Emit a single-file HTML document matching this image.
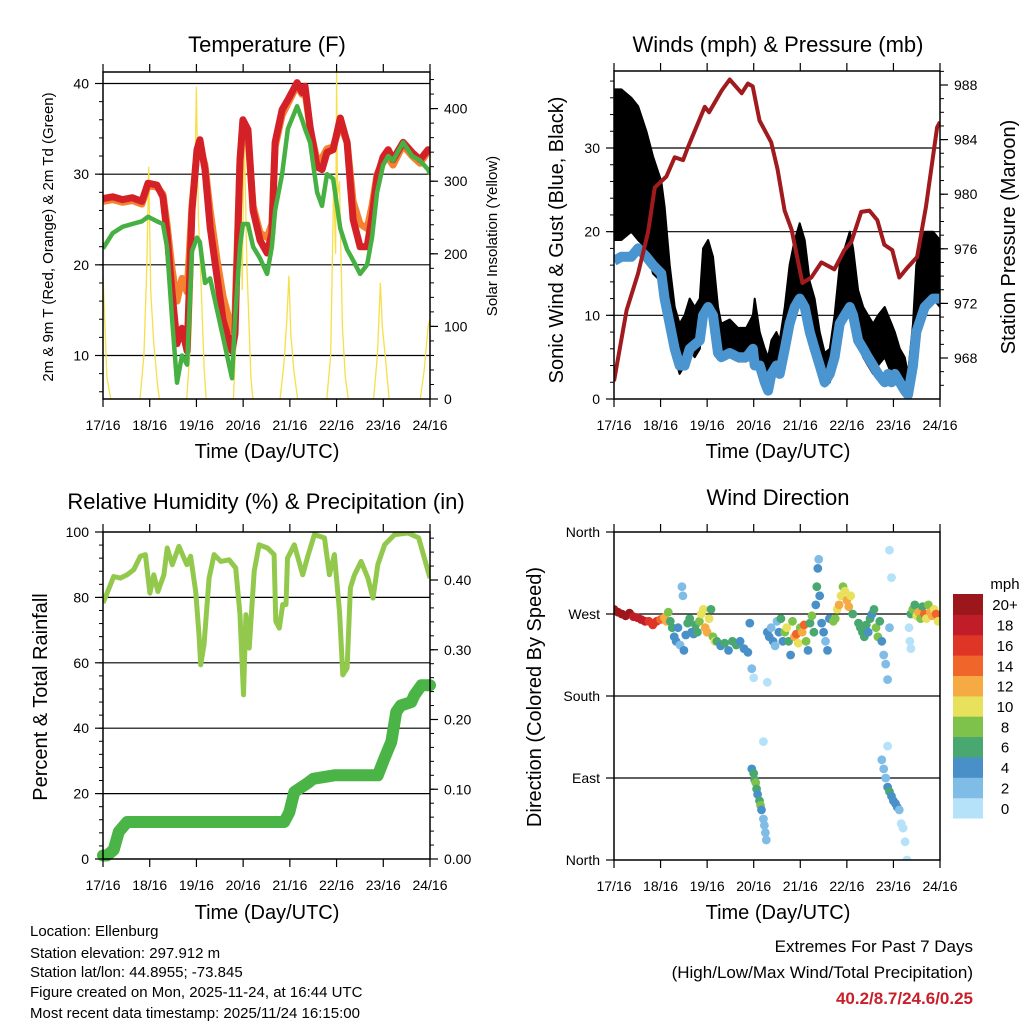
<!DOCTYPE html>
<html><head><meta charset="utf-8"><style>
html,body{margin:0;padding:0;background:#fff}
svg{display:block;font-family:"Liberation Sans",sans-serif}
</style></head><body>
<svg id="root" width="1024" height="1024" viewBox="0 0 1024 1024" xmlns="http://www.w3.org/2000/svg">
<rect x="0" y="0" width="1024" height="1024" fill="#fff"/>
<g id="marks"></g>
<g font-size="22" text-anchor="middle" fill="#000">
<text x="267" y="52">Temperature (F)</text>
<text x="778" y="52">Winds (mph) &amp; Pressure (mb)</text>
<text x="266" y="509">Relative Humidity (%) &amp; Precipitation (in)</text>
<text x="778" y="505">Wind Direction</text>
</g>
<g font-size="20" text-anchor="middle" fill="#000">
<text x="267" y="458">Time (Day/UTC)</text>
<text x="778" y="458">Time (Day/UTC)</text>
<text x="267" y="919">Time (Day/UTC)</text>
<text x="778" y="919">Time (Day/UTC)</text>
<text transform="translate(563,240) rotate(-90)">Sonic Wind &amp; Gust (Blue, Black)</text>
<text transform="translate(1015,237) rotate(-90)">Station Pressure (Maroon)</text>
<text transform="translate(47,697) rotate(-90)">Percent &amp; Total Rainfall</text>
<text transform="translate(541,697) rotate(-90)">Direction (Colored By Speed)</text>
</g>
<g font-size="15" text-anchor="middle" fill="#000">
<text transform="translate(53,237) rotate(-90)">2m &amp; 9m T (Red, Orange) &amp; 2m Td (Green)</text>
<text transform="translate(497,236) rotate(-90)">Solar Insolation (Yellow)</text>
</g>
<g font-size="15" fill="#000">
<text x="30" y="936">Location: Ellenburg</text>
<text x="30" y="958">Station elevation: 297.912 m</text>
<text x="30" y="977">Station lat/lon: 44.8955; -73.845</text>
<text x="30" y="997">Figure created on Mon, 2025-11-24, at 16:44 UTC</text>
<text x="30" y="1018">Most recent data timestamp: 2025/11/24 16:15:00</text>
</g>
<g font-size="17" text-anchor="end">
<text x="973" y="952" fill="#000">Extremes For Past 7 Days</text>
<text x="973" y="978" fill="#000">(High/Low/Max Wind/Total Precipitation)</text>
<text x="973" y="1004" fill="#c8202a" font-weight="bold">40.2/8.7/24.6/0.25</text>
</g>
<text x="1005" y="589" font-size="15" text-anchor="middle">mph</text>
</svg>
<script>
// ---------- data ----------
var dayLabels=["17/16","18/16","19/16","20/16","21/16","22/16","23/16","24/16"];
var tH=[0,5,10,15,20,23.1,27.7,30.8,32.9,35.5,38,40.6,43.2,45.7,48.3,49.8,52.4,55,58.6,61.7,66.3,67.8,70.4,71.9,74.5,77.1,80.7,84.3,86.8,88.4,92,95,99.7,102.3,103.8,106.4,110,112.5,115.1,118.2,121.9,125.4,128.5,132.1,135.7,138.2,140.8,143.9,146.5,149,154.2,158.8,162.9,167,168];
var temp2m=[27.3,27.5,27.2,27.4,27.0,29.0,28.8,27.5,23.5,16.9,11.3,13.0,10.5,26.0,32.7,33.8,30.5,24.2,18.6,13.9,10.5,12.4,31.6,36.0,34.9,26.0,22.7,21.3,23.5,33.5,37.1,38.2,40.1,39.0,39.7,35.2,30.8,30.5,32.4,32.7,36.2,33.5,25.0,22.0,22.0,25.3,29.7,31.9,32.7,31.6,33.5,32.4,31.6,32.7,32.5];
var temp9m=[27.0,27.2,26.9,27.1,26.7,28.7,28.6,27.8,24.5,19.5,16.0,18.5,17.0,26.5,32.5,33.0,31.0,26.0,20.5,16.5,12.8,14.5,31.5,35.0,34.0,26.5,23.5,23.0,24.5,33.0,36.5,37.8,39.8,38.8,39.2,35.0,31.5,31.8,32.8,33.0,35.5,33.5,27.0,24.5,24.0,26.5,30.0,31.5,31.8,31.0,33.2,32.0,31.2,32.5,32.3];
var dewpt=[21.8,23.5,24.2,24.5,24.8,25.3,24.8,24.5,22.0,14.0,7.0,10.0,9.0,21.5,23.0,22.5,18.0,18.5,15.0,12.0,7.5,14.0,22.0,24.5,24.5,22.0,20.7,19.0,22.0,26.0,30.0,35.0,37.5,36.0,35.0,33.5,28.0,26.5,30.0,29.5,24.0,21.7,20.5,19.0,20.0,23.0,28.0,31.0,32.0,31.5,33.5,32.0,31.5,30.5,30.0];
var solarH=[0,2,4,19,21,22.5,23.5,24.5,26,28,29,43,45,46.5,48,49,50.5,52,53,67,69,70.5,71.5,72.5,74,76,77,91,93,94.5,95.5,96.5,98,100,115,117,118.5,119.5,120,120.5,121.5,123,124.5,126,139,141,142.5,143.5,145,147,163,165,167,168];
var solar=[170,30,0,0,60,180,320,150,80,20,0,0,80,200,430,250,150,40,0,0,120,380,150,370,180,30,0,0,50,110,170,90,40,0,0,60,300,200,450,280,300,100,30,0,0,60,160,100,60,0,0,40,100,110];
var wH=[0,3.8,8.9,12.4,16.7,20.1,24.4,26.1,28.7,31.3,33.8,36.4,39,41.6,44.2,45.9,48.5,51,53.6,55.3,59.6,63.9,68.2,71.6,72.5,75.1,77.7,79.4,81.1,83.7,85.4,88,90.5,93.1,95.7,98.3,100.9,103.4,106,108.6,111.2,113.7,116.3,118.9,121.5,123.2,125.8,128.4,130.9,133.5,136.1,139.5,141.2,143,144.7,147.3,149.8,151.5,154.1,155.8,160.1,164.4,168];
var gust=[28,28,28,27,25,22,20,18,12,8,6,7,9,8,9,14,15,13,8,7,7.5,6.5,6.5,8,9,6,4,3,5,6,5,8,12,15,17,15,11,9,6,3.5,4,7,12,14,16,14,10,8,7,6,7,8,7,6,5,4,3,1,6,12,16,16,15];
var gustSpread=[9,9,8,8,7,7,6,5,4,3,3,3,3,3,3,4,4,4,3,2,2,2,2,2,3,2,2,2,2,2,2,3,4,4,4,4,3,3,2,2,2,3,4,4,4,4,3,3,3,3,3,3,3,3,3,2,2,2,3,4,4,4,4];
var wind=[16.5,17,17,18,17,16,15,12,9,6,4,4,6,6.5,7,10,11,10,5.5,5,5.5,5,5,6,4,4,2,1,3,4,3,6,9,11,12,11,8,6,4,2,3,5,9,10,11,10,7,6,5,4,3,2,3,2,3,2,1,0.5,4,8,11,12,12];
var pH=[0,6.5,12.4,17.5,21,27,31.3,35.6,38,46.8,49,55.5,59.6,65.8,69,71.5,75,81,84.3,87.9,91.5,97.1,101.7,106.9,113.6,118.7,122.3,127.4,131.6,135.7,139.3,143.4,147,151.1,156.2,160.8,166.5,168];
var pressure=[966.3,971.5,974.2,977.2,980.5,981.3,982.7,982.5,983.4,986.4,986.0,987.6,988.4,987.4,988.1,987.9,985.4,983.8,981.8,978.8,977.4,973.5,973.9,975.0,974.5,975.9,976.5,978.7,978.8,978.1,976.3,975.9,973.9,974.6,975.4,979.1,984.9,985.3];
var rhH=[0,2.1,5.5,8.9,12.4,15.8,19.2,21.8,24.1,26.1,28.2,31.3,33,35.6,39,43.1,45,47.6,49.3,50.2,51.9,54.5,57.1,60.5,64.8,68.2,70.4,72.2,73.4,75.1,77.7,80.2,84.5,87.9,88.8,90.6,92.3,94,94.8,98.3,102.6,105.2,108.6,113.8,116.3,118.9,121.5,123.2,125.4,127.1,129.2,132.6,136.1,138.7,141.2,144.7,149.8,156.7,162.2,168];
var rh=[78.3,81.3,86.4,85.9,86.9,88.5,92.6,93.1,81.3,86.9,81.8,86.9,95.1,90,95.6,90,92.6,81.8,68.6,59.4,65.5,85.9,93.1,91,91.5,89,74.7,50.2,74.7,64.5,88,96.1,95.1,93.1,72.7,70.6,77.8,77.8,92,96.1,86.9,92.6,99.2,98.2,86.9,93.1,75.7,56.3,58.4,82.9,86.9,91,85.9,79.8,90,96.1,99.2,99.7,98.2,85.9];
var rainH=[0,2,5.5,8.1,12.4,93.1,95.7,98.3,105.2,108,118.9,141.2,144.7,148.1,150.7,153,158.4,160,163.6,168];
var rain=[0.005,0.005,0.013,0.039,0.053,0.053,0.067,0.096,0.109,0.115,0.12,0.12,0.145,0.168,0.211,0.22,0.225,0.235,0.249,0.249];
var wdH=[0,2,4,6,8,10,12,14,16,18,20,22,24,26,27,28,29,30,31,32,33,34,35,35.5,36,37,38,39,40,41,42,43,44,45,46,47,48,49,50,51,52,53,55,57,59,61,63,65,67,69,70,71,72,71,72,72.5,73,73.5,74,75,75.5,76,77,77.5,78,78.5,77,79,79,80,81,82,83,84,85,86,87,88,89,90,91,92,93,94,95,96,97,98,99,100,101,102,103,104,104.5,105,105.5,106,107,108,109,110,111,113,114,115,116,117,118,119,120,121,122,123,126,127,128,129,130,131,132,133,134,135,136,137,138,139,140,141,142,138,139,140,141,142,143,144,145,146,147,148,149,150,151,141,142,143,152,152.5,153,153,154,155,156,157,158,159,160,161,162,163,164,165,166,167];
var wdDir=[275,272,270,268,271,267,266,264,262,262,258,262,264,266,262,272,262,255,245,240,255,236,300,290,230,247,260,265,250,248,258,250,262,270,275,255,250,265,275,245,240,240,235,238,230,240,236,240,232,228,260,210,200,100,95,88,85,78,72,65,60,55,45,38,30,22,130,195,250,245,255,240,235,262,250,265,240,250,255,240,225,262,245,248,238,255,250,258,240,230,260,268,250,280,300,320,330,290,260,250,240,230,265,262,265,275,280,290,300,295,285,278,290,270,260,255,250,245,258,250,265,270,275,255,245,262,240,225,215,198,255,110,100,90,80,75,70,65,62,58,55,40,35,20,0,125,340,310,255,240,232,270,275,280,268,272,265,278,270,265,280,272,268,275,270,262];
var wdSpd=[20,21,20,20,21,19,19,18,18,17,17,16,15,13,12,9,7,6,5,4,5,3,2,2,4,5,7,6,5,4,6,7,9,10,11,12,12,10,7,9,11,6,5,6,4,6,6,5,4,4,4,2,1,4,7,6,8,6,5,7,8,4,2,2,2,2,1,1,4,4,3,4,2,3,4,6,5,8,10,7,5,9,12,14,11,9,12,14,8,4,6,9,6,5,6,4,2,4,4,4,3,4,5,8,9,11,12,10,9,11,13,12,10,7,6,6,7,6,6,5,7,4,6,8,8,6,4,3,2,2,2,2,3,2,4,6,4,5,4,4,3,1,1,1,1,1,1,1,1,1,1,6,8,6,10,12,9,7,14,11,8,12,13,10,14,11];
var cbLabels=["0","2","4","6","8","10","12","14","16","18","20+"];
var cbColors=["#b5e2f8","#7fbce6","#4a90c8","#48a870","#7ec24b","#e7e15b","#f6aa44","#f06529","#de3527","#c01d28","#9b171c"];

// ---------- scales ----------
var NS="http://www.w3.org/2000/svg";
var marks=document.getElementById('marks');
function mk(tag,attrs,parent){var e=document.createElementNS(NS,tag);for(var k in attrs)e.setAttribute(k,attrs[k]);(parent||marks).appendChild(e);return e;}
function lin(d0,r0,d1,r1){return function(v){return r0+(v-d0)*(r1-r0)/(d1-d0);};}
var P={
 temp:{x0:103,x1:430,y0:72,y1:399},
 wind:{x0:614,x1:940,y0:71,y1:399},
 rh:{x0:103,x1:430,y0:532,y1:859},
 dir:{x0:614,x1:940,y0:532,y1:860}
};
function xs(p){return lin(0,p.x0,168,p.x1);}
var xT=xs(P.temp), xW=xs(P.wind), xR=xs(P.rh), xD=xs(P.dir);
var yTemp=lin(10,355.5,40,83.5), ySolar=lin(0,399,400,108.6);
var yWind=lin(0,399,30,148), yPres=lin(968,358,988,85);
var yRH=lin(0,859,100,532), yRain=lin(0,859,0.4,580);
var yDir=lin(0,860,360,532);
function pts(hs,vs,fx,fy){var s=[];for(var i=0;i<hs.length;i++)s.push(fx(hs[i]).toFixed(1)+","+fy(vs[i]).toFixed(1));return s.join(" ");}
function clip(id,p){var c=mk('clipPath',{id:id});mk('rect',{x:p.x0,y:p.y0,width:p.x1-p.x0,height:p.y1-p.y0},c);}

function gridH(p,vals,fy,name){for(var i=0;i<vals.length;i++){var y=fy(vals[i]);var l=mk('line',{x1:p.x0,x2:p.x1,y1:y,y2:y,stroke:'#000','stroke-width':1.2});

}}
function frame(p,name){var r=mk('rect',{x:p.x0,y:p.y0,width:p.x1-p.x0,height:p.y1-p.y0,fill:'none',stroke:'#000','stroke-width':1.5});

}
function xAxis(p,fx,name){for(var d=0;d<8;d++){var x=fx(d*24);
var t=mk('line',{x1:x,x2:x,y1:p.y1,y2:p.y1+8,stroke:'#000','stroke-width':1.2});


var t2=mk('line',{x1:x,x2:x,y1:p.y0,y2:p.y0-8,stroke:'#000','stroke-width':1.2});


var lb=mk('text',{x:x,y:p.y1+31,'font-size':14,'text-anchor':'middle'});lb.textContent=dayLabels[d];

}}
function yAxis(p,vals,labels,fy,side,name,minorStep,minorLo,minorHi){
 var x=side==='l'?p.x0:p.x1, dir=side==='l'?-1:1;
 for(var i=0;i<vals.length;i++){var y=fy(vals[i]);
  var t=mk('line',{x1:x,x2:x+dir*8,y1:y,y2:y,stroke:'#000','stroke-width':1.2});
  
  
  var lb=mk('text',{x:x+dir*14,y:y+5,'font-size':14,'text-anchor':side==='l'?'end':'start'});lb.textContent=labels[i];
  
  }
 if(minorStep){for(var v=minorLo;v<=minorHi+1e-9;v+=minorStep){var yy=fy(v);if(yy<p.y0-0.5||yy>p.y1+0.5)continue;
  var m=mk('line',{x1:x,x2:x+dir*4,y1:yy,y2:yy,stroke:'#000','stroke-width':1});
  
  }}
}

// ---------- temperature panel ----------
clip('cT',P.temp);clip('cW',P.wind);clip('cR',P.rh);clip('cD',P.dir);
gridH(P.temp,[10,20,30,40],yTemp,'temperature');
var gT=mk('g',{'clip-path':'url(#cT)'});


var s1=mk('polyline',{points:pts(solarH,solar,xT,ySolar),fill:'none',stroke:'#f7df4a','stroke-width':1.3},gT);


var s2=mk('polyline',{points:pts(tH,temp9m,xT,yTemp),fill:'none',stroke:'#f58230','stroke-width':7,'stroke-linejoin':'round'},gT);


var s3=mk('polyline',{points:pts(tH,temp2m,xT,yTemp),fill:'none',stroke:'#d42128','stroke-width':7,'stroke-linejoin':'round'},gT);


var s4=mk('polyline',{points:pts(tH,dewpt,xT,yTemp),fill:'none',stroke:'#47b043','stroke-width':4.5,'stroke-linejoin':'round'},gT);


frame(P.temp,'temperature');
xAxis(P.temp,xT,'temperature');
yAxis(P.temp,[10,20,30,40],["10","20","30","40"],yTemp,'l','temperature-y',2,6,40);
yAxis(P.temp,[0,100,200,300,400],["0","100","200","300","400"],ySolar,'r','solar-y',20,0,440);

// ---------- wind panel ----------
gridH(P.wind,[10,20,30],yWind,'wind');
var gW=mk('g',{'clip-path':'url(#cW)'});


var up=[],dn=[];
for(var i=0;i<wH.length;i++){up.push(xW(wH[i]).toFixed(1)+","+yWind(gust[i]+gustSpread[i]).toFixed(1));dn.unshift(xW(wH[i]).toFixed(1)+","+yWind(Math.max(0,gust[i]-gustSpread[i])).toFixed(1));}
var gb=mk('polygon',{points:up.concat(dn).join(" "),fill:'#000',stroke:'#000','stroke-width':2,'stroke-linejoin':'round'},gW);


var wl=mk('polyline',{points:pts(wH,wind,xW,yWind),fill:'none',stroke:'#4a94cf','stroke-width':10,'stroke-linejoin':'round'},gW);


var pl=mk('polyline',{points:pts(pH,pressure,xW,yPres),fill:'none',stroke:'#a01a1e','stroke-width':4,'stroke-linejoin':'round'},gW);


frame(P.wind,'wind');
xAxis(P.wind,xW,'wind');
yAxis(P.wind,[0,10,20,30],["0","10","20","30"],yWind,'l','wind-y',2,0,38);
yAxis(P.wind,[968,972,976,980,984,988],["968","972","976","980","984","988"],yPres,'r','pressure-y',1,966,989);

// ---------- humidity panel ----------
gridH(P.rh,[20,40,60,80],yRH,'humidity');
var gR=mk('g',{'clip-path':'url(#cR)'});


var rl=mk('polyline',{points:pts(rhH,rh,xR,yRH),fill:'none',stroke:'#92c94c','stroke-width':5,'stroke-linejoin':'round'},gR);


var rn=mk('polyline',{points:pts(rainH,rain,xR,yRain),fill:'none',stroke:'#4bb447','stroke-width':12,'stroke-linejoin':'round','stroke-linecap':'round'});


frame(P.rh,'humidity');
xAxis(P.rh,xR,'humidity');
yAxis(P.rh,[0,20,40,60,80,100],["0","20","40","60","80","100"],yRH,'l','humidity-y',4,0,100);
yAxis(P.rh,[0,0.1,0.2,0.3,0.4],["0.00","0.10","0.20","0.30","0.40"],yRain,'r','rain-y',0.02,0,0.46);

// ---------- wind direction panel ----------
gridH(P.dir,[90,180,270],yDir,'direction');
var gD=mk('g',{'clip-path':'url(#cD)'});


for(var i=0;i<wdH.length;i++){var bin=Math.min(10,Math.floor(wdSpd[i]/2));
 var c=mk('circle',{cx:xD(wdH[i]).toFixed(1),cy:yDir(wdDir[i]).toFixed(1),r:4.4,fill:cbColors[bin]},gD);
 
 }
var fr=mk('rect',{x:P.dir.x0,y:P.dir.y0,width:P.dir.x1-P.dir.x0,height:P.dir.y1-P.dir.y0,fill:'none',stroke:'#000','stroke-width':1.5});


xAxis(P.dir,xD,'direction');
yAxis(P.dir,[0,90,180,270,360],["North","East","South","West","North"],yDir,'l','direction-y');
var cbH=(818-594)/11;
for(var i=0;i<11;i++){var yb=818-(i+1)*cbH;
 var b=mk('rect',{x:953,y:yb.toFixed(1),width:30,height:(cbH+0.5).toFixed(1),fill:cbColors[i]});
 
 
 var t=mk('text',{x:1005,y:(yb+cbH/2+6).toFixed(1),'font-size':15,'text-anchor':'middle'});t.textContent=cbLabels[i];
 
 }
</script>
</body></html>
